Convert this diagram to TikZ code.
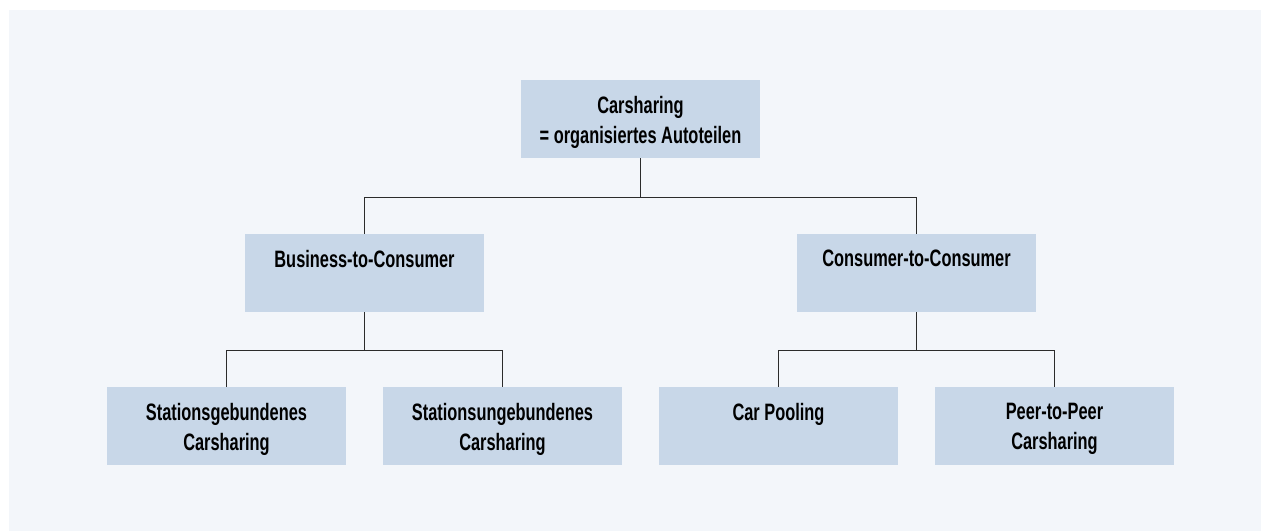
\documentclass[tikz,border=0pt]{standalone}
\usepackage{fontspec}
\newfontfamily\condsans[FakeStretch=0.69]{Liberation Sans}
\definecolor{panelbg}{HTML}{F3F6FA}
\definecolor{boxblue}{HTML}{C8D7E8}
\definecolor{linegray}{HTML}{2B2B2B}
\usetikzlibrary{positioning,calc}

\begin{document}
\begin{tikzpicture}[
  x=0.75pt, y=-0.75pt,
  catbox/.style={rectangle, fill=boxblue, minimum width=179.25pt, minimum height=58.5pt, inner sep=0pt},
  catlabel/.style={anchor=north, inner sep=0pt, align=center, text=black, font=\condsans\bfseries\fontsize{17.8}{22.5}\selectfont},
  branch/.style={draw=linegray, line width=1.1pt},
]
\useasboundingbox (0,0) rectangle (1261,531);
\fill[panelbg] (9,10) rectangle (1261,531);
\node[catbox] (top) at (640.5,119) {};
\node[catbox] (b2c) at (364.5,273) {};
\node[catbox] (c2c) at (916.5,273) {};
\node[catbox] (stgeb) at (226.5,426) {};
\node[catbox] (stungeb) at (502.5,426) {};
\node[catbox] (pool) at (778.5,426) {};
\node[catbox] (p2p) at (1054.5,426) {};
\node[catlabel] (toptxt) at ([yshift=-12pt]top.north) {Carsharing\\= organisiertes Autoteilen};
\node[catlabel] (b2ctxt) at ([yshift=-12pt]b2c.north) {Business-to-Consumer};
\node[catlabel] (c2ctxt) at ([yshift=-12pt]c2c.north) {Consumer-to-Consumer};
\node[catlabel] (stgebtxt) at ([yshift=-12pt]stgeb.north) {Stationsgebundenes\\Carsharing};
\node[catlabel] (stungebtxt) at ([yshift=-12pt]stungeb.north) {Stationsungebundenes\\Carsharing};
\node[catlabel] (pooltxt) at ([yshift=-12pt]pool.north) {Car Pooling};
\node[catlabel] (p2ptxt) at ([yshift=-12pt]p2p.north) {Peer-to-Peer\\Carsharing};
\coordinate (topjoin) at ($(top.south)+(0,39)$);
\coordinate (b2cjoin) at ($(b2c.south)+(0,38)$);
\coordinate (c2cjoin) at ($(c2c.south)+(0,38)$);
\draw[branch] (top.south) -- (topjoin) -| (b2c.north);
\draw[branch] (topjoin) -| (c2c.north);
\draw[branch] (b2c.south) -- (b2cjoin) -| (stgeb.north);
\draw[branch] (b2cjoin) -| (stungeb.north);
\draw[branch] (c2c.south) -- (c2cjoin) -| (pool.north);
\draw[branch] (c2cjoin) -| (p2p.north);
\end{tikzpicture}
\end{document}
